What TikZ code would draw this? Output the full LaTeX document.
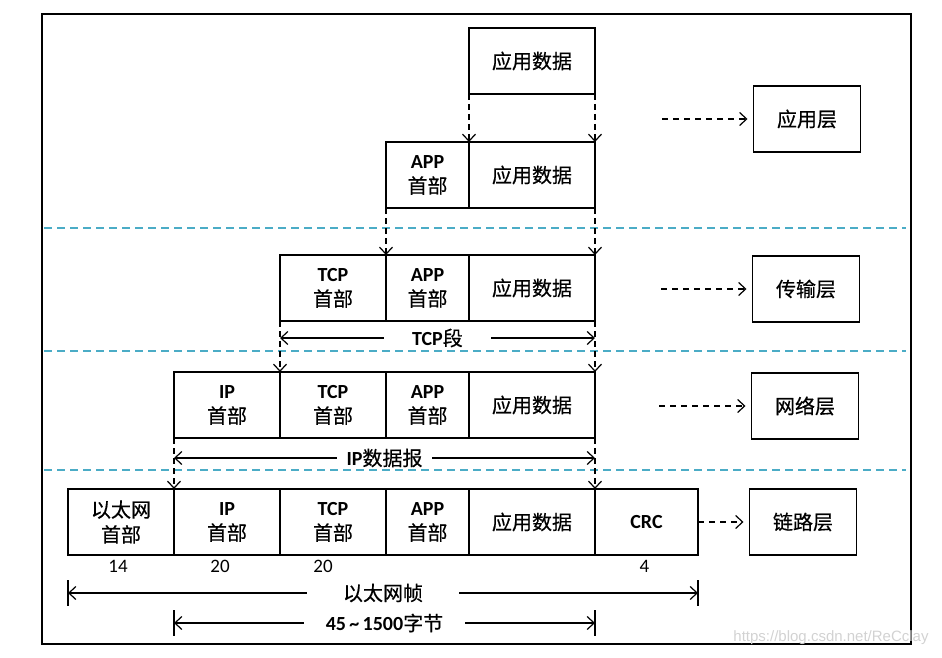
\documentclass[tikz,border=0pt]{standalone}
\usepackage{fontspec}
\setmainfont{Carlito}
\newfontfamily\cjk{Noto Sans CJK SC}[FakeBold=0.5]
\newfontfamily\wmfont{Liberation Sans}
\newcommand{\zh}[1]{{\cjk\mdseries #1}}
\usetikzlibrary{positioning,arrows.meta}
\definecolor{sepblue}{HTML}{4BACC6}

\begin{document}
\begin{tikzpicture}[x=1pt,y=-1pt,
  >={Straight Barb[length=7pt,width=13pt,line width=1.2pt]},
  pktbox/.style={draw,line width=1.5pt,inner sep=0pt,outer sep=0pt,minimum height=66pt,align=center,font=\fontsize{20}{25}\selectfont\bfseries},
  hdr/.style={pktbox,minimum width=106pt},
  apphdr/.style={pktbox,minimum width=83pt},
  data/.style={pktbox,minimum width=126pt},
  layer/.style={pktbox,minimum width=107pt},
  dropline/.style={->,line width=1.2pt,dash pattern=on 6pt off 4pt},
  hint/.style={->,line width=1.2pt,dash pattern=on 6pt off 5pt,shorten >=6pt},
  sepline/.style={line width=1.4pt,color=sepblue,dash pattern=on 8pt off 5pt},
  dimline/.style={<->,line width=1.4pt},
  gaplabel/.style={fill=white,inner xsep=#1,inner ysep=1pt,font=\fontsize{20}{22}\selectfont\bfseries},
  gaplabel/.default=26pt,
  numlabel/.style={font=\fontsize{19}{20}\selectfont}]
\useasboundingbox (0,0) rectangle (942,658);
\draw[line width=1.6pt] (42,14) rectangle (911,644);
\foreach \y in {228,351,470}
  \draw[sepline] (44,\y) -- (906,\y);

% application layer
\node[data] (d1) at (532,61) {\zh{应用数据}};
\node[data] (d2) at (532,175) {\zh{应用数据}};
\node[apphdr,left=0pt of d2] (app2) {APP\\\zh{首部}};

% transport layer
\node[data] (d3) at (532,288) {\zh{应用数据}};
\node[apphdr,left=0pt of d3] (app3) {APP\\\zh{首部}};
\node[hdr,left=0pt of app3] (tcp3) {TCP\\\zh{首部}};

% network layer
\node[data] (d4) at (532,405) {\zh{应用数据}};
\node[apphdr,left=0pt of d4] (app4) {APP\\\zh{首部}};
\node[hdr,left=0pt of app4] (tcp4) {TCP\\\zh{首部}};
\node[hdr,left=0pt of tcp4] (ip4) {IP\\\zh{首部}};

% link layer
\node[data] (d5) at (532,522) {\zh{应用数据}};
\node[apphdr,left=0pt of d5] (app5) {APP\\\zh{首部}};
\node[hdr,left=0pt of app5] (tcp5) {TCP\\\zh{首部}};
\node[hdr,left=0pt of tcp5] (ip5) {IP\\\zh{首部}};
\node[hdr,left=0pt of ip5] (eth5) {\zh{以太网}\\\zh{首部}};
\node[hdr,minimum width=103pt,right=0pt of d5] (crc) {CRC};

% layer names
\node[layer] (l1) at (807,119) {\zh{应用层}};
\node[layer] (l2) at (806,289) {\zh{传输层}};
\node[layer] (l3) at (805,406) {\zh{网络层}};
\node[layer] (l4) at (803,522) {\zh{链路层}};
\coordinate (s1) at (662,119);
\coordinate (s2) at (661,289);
\coordinate (s3) at (659,406);
\draw[hint] (s1) -- (l1.west);
\draw[hint] (s2) -- (l2.west);
\draw[hint] (s3) -- (l3.west);
\draw[hint] (crc.east) -- (l4.west);

% encapsulation
\foreach \a/\b in {d1.south west/d2.north west,d1.south east/d2.north east,
  app2.south west/app3.north west,d2.south east/d3.north east,
  tcp3.south west/tcp4.north west,d3.south east/d4.north east,
  ip4.south west/ip5.north west,d4.south east/d5.north east}
  \draw[dropline] (\a) -- (\b);

% lengths
\coordinate (tcpL) at ([yshift=-17pt]tcp3.south west);
\coordinate (tcpR) at ([yshift=-17pt]d3.south east);
\draw[dimline] (tcpL) -- node[gaplabel=28pt] {TCP\zh{段}} (tcpR);
\coordinate (ipL) at ([yshift=-20pt]ip4.south west);
\coordinate (ipR) at ([yshift=-20pt]d4.south east);
\draw[dimline] (ipL) -- node[gaplabel=10pt] {IP\zh{数据报}} (ipR);
\coordinate (ethL) at ([yshift=-38pt]eth5.south west);
\coordinate (ethR) at ([yshift=-38pt]crc.south east);
\draw[dimline] (ethL) -- node[gaplabel=36pt] {\zh{以太网帧}} (ethR);
\coordinate (payL) at ([yshift=-68pt]ip5.south west);
\coordinate (payR) at ([yshift=-68pt]d5.south east);
\draw[dimline] (payL) -- node[gaplabel=22pt] {45\,\textasciitilde\,1500\zh{字节}} (payR);
\foreach \p in {ethL,ethR,payL,payR}
  \draw[line width=1.4pt] ([yshift=13pt]\p) -- ([yshift=-13pt]\p);

\node[numlabel,below=2pt of eth5.south,xshift=-3pt] (n14) {14};
\node[numlabel,below=2pt of ip5.south,xshift=-7pt] (n20a) {20};
\node[numlabel,below=2pt of tcp5.south,xshift=-10pt] (n20b) {20};
\node[numlabel,below=2pt of crc.south,xshift=-2pt] (n4) {4};

\node[text=gray!35,font=\wmfont\fontsize{15}{15}\selectfont] (wm) at (831,638) {https://blog.csdn.net/ReCclay};
\end{tikzpicture}
\end{document}
